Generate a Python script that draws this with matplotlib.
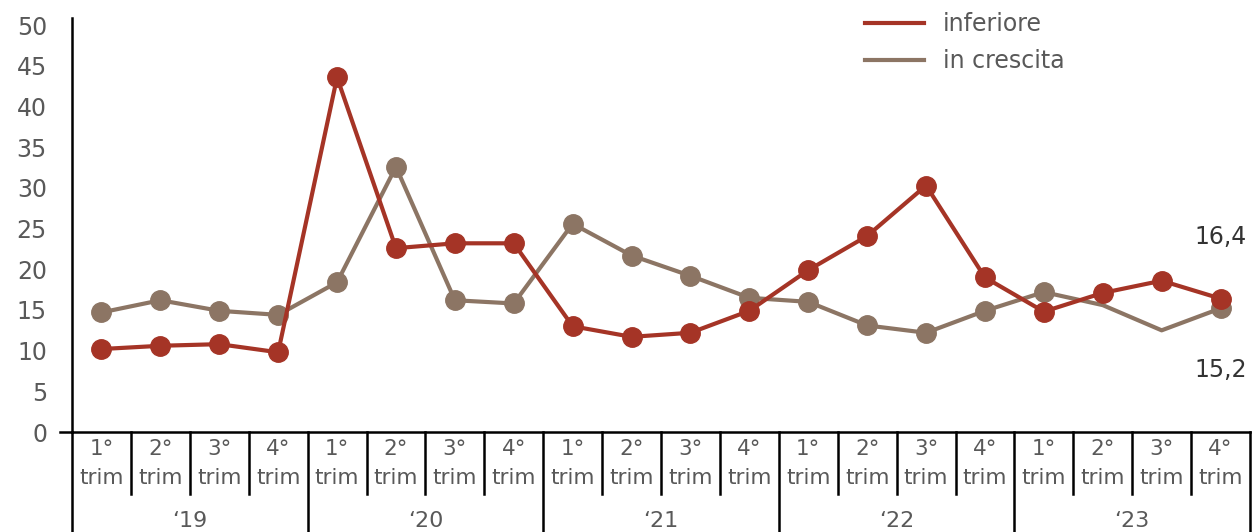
import numpy as np
import matplotlib.pyplot as plt
import matplotlib.transforms as mtransforms

# Dati trimestrali
quarters = ["1°", "2°", "3°", "4°"] * 5
years = ["‘19", "‘20", "‘21", "‘22", "‘23"]
inferiore = [10.2, 10.6, 10.8, 9.8, 43.6, 22.6, 23.2, 23.2, 13.0, 11.7,
             12.2, 14.9, 19.9, 24.1, 30.3, 19.0, 14.8, 17.1, 18.6, 16.4]
in_crescita = [14.7, 16.2, 14.9, 14.4, 18.4, 32.6, 16.2, 15.8, 25.6, 21.7,
               19.2, 16.5, 16.0, 13.1, 12.2, 14.9, 17.2, 15.6, 12.5, 15.2]

red = "#a53426"
brown = "#8c7564"
txt = "#595959"

plt.rcParams['font.family'] = ['DejaVu Sans']

fig = plt.figure(figsize=(12.52, 5.32), dpi=100)
ax = fig.add_axes([72 / 1252, 1 - 432 / 532, 1178 / 1252, 414 / 532])

x = np.arange(len(quarters))
# punti senza marker per 2° e 3° trim '23
gray_marks = [i for i in x if i not in (17, 18)]
ax.plot(x, in_crescita, color=brown, lw=3, marker="o", ms=14,
        markevery=gray_marks, label="in crescita", zorder=2)
ax.plot(x, inferiore, color=red, lw=3, marker="o", ms=14,
        label="inferiore", zorder=3)

ax.set_xlim(-0.5, len(x) - 0.5)
ax.set_ylim(0, 50.9)
ax.set_yticks(np.arange(0, 51, 5))
ax.tick_params(axis="y", length=0, pad=18, labelsize=17, labelcolor=txt)
ax.set_xticks([])
for s in ["top", "right"]:
    ax.spines[s].set_visible(False)
ax.spines["left"].set_linewidth(1.8)
ax.spines["bottom"].set_linewidth(1.8)

# etichette finali
ax.text(19.45, inferiore[-1] + 7.6, f"{inferiore[-1]:.1f}".replace(".", ","),
        ha="right", va="center", fontsize=17, color="#333333")
ax.text(19.45, in_crescita[-1] - 7.6, f"{in_crescita[-1]:.1f}".replace(".", ","),
        ha="right", va="center", fontsize=17, color="#333333")

# asse categorie a due livelli
tr = mtransforms.blended_transform_factory(ax.transData, ax.transAxes)
ax.plot([-0.5 - 12 / 58.9, -0.5], [0, 0], color="black", lw=1.8,
        transform=tr, clip_on=False)
for i in range(len(x) + 1):
    low = -0.2415 if i % 4 == 0 else -0.15
    ax.plot([i - 0.5, i - 0.5], [0, low], color="black", lw=1.8,
            transform=tr, clip_on=False)
for i, q in enumerate(quarters):
    ax.text(i, -0.041, q, transform=tr, ha="center", va="center",
            fontsize=15.5, color=txt)
    ax.text(i, -0.111, "trim", transform=tr, ha="center", va="center",
            fontsize=15.5, color=txt)
for j, yr in enumerate(years):
    ax.text(4 * j + 1.5, -0.215, yr, transform=tr, ha="center", va="center",
            fontsize=16, color=txt)

handles, labels = ax.get_legend_handles_labels()
leg = ax.legend(handles[::-1], labels[::-1], loc="upper left",
                bbox_to_anchor=(772 / 1178, 1.065), frameon=False,
                fontsize=17, handlelength=2.5, handletextpad=0.8,
                labelspacing=0.55, labelcolor=txt)
for h in leg.legend_handles:
    h.set_marker("")

fig.savefig("out.png", dpi=100)
